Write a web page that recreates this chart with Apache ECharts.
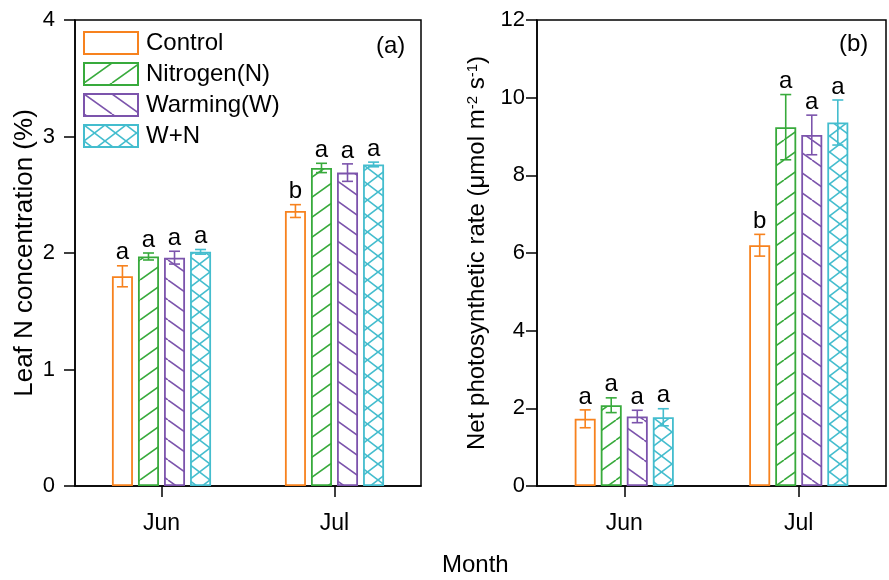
<!DOCTYPE html>
<html>
<head>
<meta charset="utf-8">
<script src="https://cdn.jsdelivr.net/npm/echarts@6/dist/echarts.min.js"></script>
<style>
  html, body { margin: 0; padding: 0; background: #fff; }
  #chart { width: 889px; height: 580px; }
</style>
</head>
<body>
<div id="chart"></div>
<script>
// categories
const months = ['Jun', 'Jul']
const treatments = ['Control', 'Nitrogen(N)', 'Warming(W)', 'W+N']

// (a) leaf N concentration (%)
const leafN = [
  [1.80, 2.36],
  [1.97, 2.73],
  [1.96, 2.69],
  [2.01, 2.76]
]
const leafNErr = [
  [0.09, 0.055],
  [0.03, 0.04],
  [0.055, 0.075],
  [0.02, 0.02]
]
const leafNLetters = [
  ['a', 'b'],
  ['a', 'a'],
  ['a', 'a'],
  ['a', 'a']
]

// (b) net photosynthetic rate
const pn = [
  [1.73, 6.20],
  [2.08, 9.24],
  [1.79, 9.04],
  [1.77, 9.36]
]
const pnErr = [
  [0.23, 0.28],
  [0.19, 0.84],
  [0.16, 0.51],
  [0.22, 0.58]
]
const pnLetters = [
  ['a', 'b'],
  ['a', 'a'],
  ['a', 'a'],
  ['a', 'a']
]

const colors = ['#F7821E', '#38AA3C', '#7C54AC', '#44BDCE']
const hatchKind = ['none', '/', '\\', 'x']
const FONT = 'Liberation Sans, Arial, sans-serif'
const BAR_W = 21
const BAR_GAP = 0.24

// hatch fill made on a small canvas
const hatch = (color, kind) => {
  if (kind === 'none') return '#fff'
  const W = kind === 'x' ? 21 : 28
  const H = kind === 'x' ? 16 : 20
  const c = document.createElement('canvas')
  c.width = W
  c.height = H
  const ctx = c.getContext('2d')
  ctx.fillStyle = '#fff'
  ctx.fillRect(0, 0, W, H)
  ctx.strokeStyle = color
  ctx.lineWidth = 1.6
  for (let k = -1; k <= 1; k++) {
    if (kind === '/' || kind === 'x') {
      ctx.beginPath()
      ctx.moveTo(k * W, H)
      ctx.lineTo((k + 1) * W, 0)
      ctx.stroke()
    }
    if (kind === '\\' || kind === 'x') {
      ctx.beginPath()
      ctx.moveTo(k * W, 0)
      ctx.lineTo((k + 1) * W, H)
      ctx.stroke()
    }
  }
  return { image: c, repeat: 'repeat' }
}

const errRender = (idx, letters) => (params, api) => {
  const cat = api.value(0)
  const v = api.value(1)
  const e = api.value(2)
  const off = (idx - 1.5) * BAR_W * (1 + BAR_GAP)
  const top = api.coord([cat, v + e])
  const bot = api.coord([cat, v - e])
  const x = top[0] + off
  const cap = 5.5
  const ls = { stroke: colors[idx], lineWidth: 1.6 }
  return {
    type: 'group',
    children: [
      { type: 'line', shape: { x1: x, y1: top[1], x2: x, y2: bot[1] }, style: ls },
      { type: 'line', shape: { x1: x - cap, y1: top[1], x2: x + cap, y2: top[1] }, style: ls },
      { type: 'line', shape: { x1: x - cap, y1: bot[1], x2: x + cap, y2: bot[1] }, style: ls },
      {
        type: 'text',
        style: {
          text: letters[idx][params.dataIndex],
          x: x,
          y: top[1] - 1,
          textAlign: 'center',
          textVerticalAlign: 'bottom',
          fontSize: 24,
          fontFamily: FONT,
          fill: '#000'
        }
      }
    ]
  }
}

const axisLine = { show: true, lineStyle: { color: '#000', width: 1.5 } }
const axisTick = { show: true, length: 11, lineStyle: { color: '#000', width: 1.5 } }

const xAxisBase = (gi) => ({
  type: 'category',
  gridIndex: gi,
  data: months,
  axisLine: axisLine,
  axisTick: { ...axisTick, alignWithLabel: true },
  axisLabel: { color: '#000', fontSize: 23, fontFamily: FONT, margin: 26 }
})

const series = []
const addPanel = (gi, vals, errs, letters) => {
  treatments.forEach((name, i) => {
    series.push({
      name: name,
      type: 'bar',
      xAxisIndex: gi,
      yAxisIndex: gi,
      barWidth: BAR_W,
      barGap: BAR_GAP * 100 + '%',
      itemStyle: {
        color: hatch(colors[i], hatchKind[i]),
        borderColor: colors[i],
        borderWidth: 1.8
      },
      emphasis: { disabled: true },
      data: vals[i]
    })
  })
  treatments.forEach((name, i) => {
    series.push({
      name: name + ' err',
      type: 'custom',
      xAxisIndex: gi,
      yAxisIndex: gi,
      clip: false,
      z: 5,
      renderItem: errRender(i, letters),
      data: vals[i].map((v, j) => [j, v, errs[i][j]])
    })
  })
}
addPanel(0, leafN, leafNErr, leafNLetters)
addPanel(1, pn, pnErr, pnLetters)

const option = {
  animation: false,
  textStyle: { fontFamily: FONT },
  grid: [
    { left: 75, right: 468, top: 20, bottom: 94, show: true, borderColor: '#000', borderWidth: 1.5 },
    { left: 537, right: 3, top: 20, bottom: 94, show: true, borderColor: '#000', borderWidth: 1.5 }
  ],
  legend: {
    data: treatments.map((t) => ({ name: t, icon: 'rect' })),
    orient: 'vertical',
    left: 83,
    top: 31,
    padding: 0,
    itemWidth: 54,
    itemHeight: 22,
    itemGap: 7,
    selectedMode: false,
    textStyle: { color: '#000', fontSize: 24, fontFamily: FONT, padding: [0, 0, 0, 3] }
  },
  xAxis: [xAxisBase(0), xAxisBase(1)],
  yAxis: [
    {
      type: 'value',
      gridIndex: 0,
      min: 0,
      max: 4,
      interval: 1,
      name: 'Leaf N concentration (%)',
      nameLocation: 'middle',
      nameGap: 37,
      nameTextStyle: { color: '#000', fontSize: 26, fontFamily: FONT },
      axisLine: axisLine,
      axisTick: axisTick,
      splitLine: { show: false },
      axisLabel: { color: '#000', fontSize: 22, fontFamily: FONT, margin: 20 }
    },
    {
      type: 'value',
      gridIndex: 1,
      min: 0,
      max: 12,
      interval: 2,
      name: 'Net photosynthetic rate (μmol m{sup|-2} s{sup|-1})',
      nameLocation: 'middle',
      nameGap: 47,
      nameTextStyle: {
        color: '#000',
        fontSize: 24,
        fontFamily: FONT,
        rich: {
          sup: { fontSize: 15, fontFamily: FONT, color: '#000', verticalAlign: 'top', padding: [0, 0, 10, 0] }
        }
      },
      axisLine: axisLine,
      axisTick: axisTick,
      splitLine: { show: false },
      axisLabel: { color: '#000', fontSize: 22, fontFamily: FONT, margin: 12 }
    }
  ],
  graphic: [
    { type: 'text', left: 442, top: 553, style: { text: 'Month', fontSize: 24, fontFamily: FONT, fill: '#000' } },
    { type: 'text', left: 376, top: 34, style: { text: '(a)', fontSize: 24, fontFamily: FONT, fill: '#000' } },
    { type: 'text', left: 839, top: 32, style: { text: '(b)', fontSize: 24, fontFamily: FONT, fill: '#000' } }
  ],
  series: series
}

const chart = echarts.init(document.getElementById('chart'))
chart.setOption(option)
</script>
</body>
</html>
